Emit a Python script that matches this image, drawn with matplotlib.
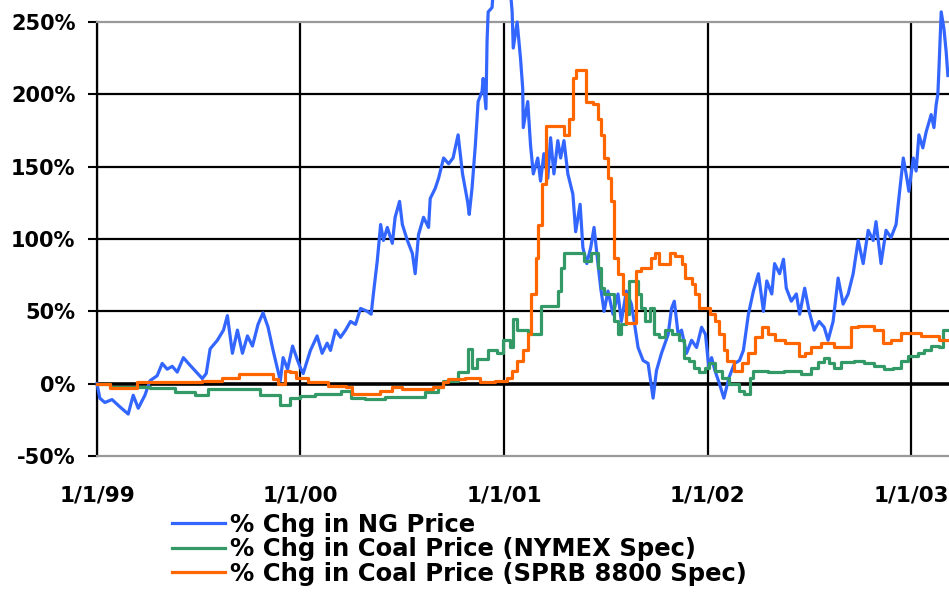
import matplotlib.pyplot as plt
import pandas as pd

# % Chg in NG Price
ng_dates = [
    "1999-01-01", "1999-01-06", "1999-01-15", "1999-01-28", "1999-02-11", "1999-02-26", "1999-03-07",
    "1999-03-16", "1999-03-28", "1999-04-06", "1999-04-19", "1999-04-28", "1999-05-07", "1999-05-16",
    "1999-05-25", "1999-06-05", "1999-06-14", "1999-06-26", "1999-07-09", "1999-07-16", "1999-07-23",
    "1999-08-05", "1999-08-16", "1999-08-23", "1999-09-01", "1999-09-10", "1999-09-19", "1999-09-28",
    "1999-10-07", "1999-10-17", "1999-10-26", "1999-11-04", "1999-11-13", "1999-11-21", "1999-11-26",
    "1999-12-01", "1999-12-09", "1999-12-18", "1999-12-27",
    "2000-01-01", "2000-01-06", "2000-01-19", "2000-01-31", "2000-02-09", "2000-02-18", "2000-02-24",
    "2000-03-04", "2000-03-13", "2000-03-22", "2000-03-31", "2000-04-09", "2000-04-18", "2000-04-30",
    "2000-05-07", "2000-05-11", "2000-05-18", "2000-05-24", "2000-05-29", "2000-06-05", "2000-06-14",
    "2000-06-19", "2000-06-27", "2000-07-02", "2000-07-11", "2000-07-20", "2000-07-25", "2000-07-31",
    "2000-08-09", "2000-08-18", "2000-08-21", "2000-08-30", "2000-09-05", "2000-09-14", "2000-09-23",
    "2000-10-01", "2000-10-10", "2000-10-18", "2000-10-27", "2000-10-30", "2000-11-04", "2000-11-10",
    "2000-11-15", "2000-11-22", "2000-11-24", "2000-11-29", "2000-12-01", "2000-12-03", "2000-12-10",
    "2000-12-17",
    "2001-01-06", "2001-01-15", "2001-01-17", "2001-01-24", "2001-01-30", "2001-02-03", "2001-02-04",
    "2001-02-12", "2001-02-17", "2001-02-22", "2001-03-02", "2001-03-07", "2001-03-13", "2001-03-20",
    "2001-03-25", "2001-03-31", "2001-04-07", "2001-04-12", "2001-04-18", "2001-04-25", "2001-05-04",
    "2001-05-09", "2001-05-17", "2001-05-22", "2001-05-29", "2001-06-05", "2001-06-11", "2001-06-18",
    "2001-06-23", "2001-06-29", "2001-07-06", "2001-07-15", "2001-07-24", "2001-07-30", "2001-08-08",
    "2001-08-17", "2001-08-22", "2001-08-29", "2001-09-07", "2001-09-16", "2001-09-25", "2001-10-01",
    "2001-10-10", "2001-10-22", "2001-10-28", "2001-11-02", "2001-11-09", "2001-11-15", "2001-11-24",
    "2001-12-03", "2001-12-12", "2001-12-21", "2001-12-28",
    "2002-01-03", "2002-01-08", "2002-01-14", "2002-01-22", "2002-01-30", "2002-02-08", "2002-02-18",
    "2002-02-27", "2002-03-06", "2002-03-15", "2002-03-24", "2002-04-02", "2002-04-11", "2002-04-17",
    "2002-04-26", "2002-05-01", "2002-05-10", "2002-05-17", "2002-05-22", "2002-05-31", "2002-06-09",
    "2002-06-15", "2002-06-24", "2002-07-02", "2002-07-11", "2002-07-20", "2002-07-29", "2002-08-05",
    "2002-08-14", "2002-08-23", "2002-09-01", "2002-09-10", "2002-09-19", "2002-09-28", "2002-10-07",
    "2002-10-16", "2002-10-25", "2002-10-30", "2002-11-08", "2002-11-17", "2002-11-26", "2002-12-05",
    "2002-12-10", "2002-12-18", "2002-12-23", "2002-12-28",
    "2003-01-05", "2003-01-10", "2003-01-15", "2003-01-22", "2003-01-28", "2003-02-06", "2003-02-11",
    "2003-02-15", "2003-02-18", "2003-02-20", "2003-02-24", "2003-03-01", "2003-03-05", "2003-03-08",
]
ng_pct = [
    0, -10, -13, -11, -16, -21, -8,
    -17, -8, 2, 5.5, 14, 10, 12,
    8, 18, 14, 9, 3.5, 7, 24,
    30, 37, 47, 21, 37, 21, 33,
    26, 41, 49, 39, 23, 10, 2,
    18, 10, 26, 16,
    11, 7, 23, 33, 21, 28, 23,
    37, 32, 37, 43, 41, 52, 50,
    48, 62, 85, 110, 99, 108, 97,
    115, 126, 110, 99, 90, 76, 103,
    115, 108, 128, 135, 142, 156, 152,
    156, 172, 145, 126, 117, 135, 165,
    195, 202, 211, 190, 237, 257, 260,
    300,
    300, 257, 232, 250, 225, 204, 177,
    195, 165, 145, 156, 140, 159, 142,
    170, 145, 168, 156, 168, 145, 131,
    105, 124, 94, 83, 94, 108, 83,
    66, 50, 64, 48, 62, 43, 64,
    55, 43, 25, 16, 14, -10, 9,
    21, 34, 52, 57, 34, 37, 21,
    30, 25, 39, 34,
    11, 18, 9, 0, -10, 4, 14,
    16, 23, 48, 64, 76, 50, 71,
    62, 83, 76, 86, 66, 57, 62,
    48, 66, 50, 37, 43, 39, 30,
    43, 73, 55, 62, 76, 99, 83,
    106, 99, 112, 83, 106, 101, 110,
    128, 156, 145, 133,
    156, 147, 172, 163, 174, 186, 177,
    193, 200, 218, 257, 245, 229, 213,
]

# % Chg in Coal Price (NYMEX Spec)
nymex_dates = [
    "1999-01-01", "1999-01-24", "1999-04-06", "1999-05-21", "1999-06-26", "1999-07-20", "1999-10-12",
    "1999-10-21", "1999-11-26", "1999-12-14", "2000-01-01", "2000-01-28", "2000-03-13", "2000-03-31",
    "2000-04-26", "2000-06-01", "2000-08-06", "2000-08-12", "2000-09-04", "2000-09-13", "2000-10-10",
    "2000-10-26", "2000-10-28", "2000-11-04", "2000-11-13", "2000-12-02", "2000-12-18", "2000-12-30",
    "2001-01-12", "2001-01-17", "2001-01-24", "2001-02-12", "2001-03-07", "2001-04-07", "2001-04-12",
    "2001-04-18", "2001-05-13", "2001-05-24", "2001-06-05", "2001-06-18", "2001-06-24", "2001-06-29",
    "2001-07-17", "2001-07-24", "2001-07-30", "2001-08-08", "2001-08-13", "2001-08-24", "2001-08-29",
    "2001-09-04", "2001-09-10", "2001-09-19", "2001-09-26", "2001-10-05", "2001-10-16", "2001-10-28",
    "2001-11-10", "2001-11-19", "2001-11-28", "2001-12-07", "2001-12-16", "2001-12-27", "2002-01-03",
    "2002-01-14", "2002-01-26", "2002-02-08", "2002-02-27", "2002-03-08", "2002-03-17", "2002-03-24",
    "2002-04-20", "2002-05-17", "2002-06-18", "2002-07-06", "2002-07-18", "2002-07-29", "2002-08-07",
    "2002-08-16", "2002-08-29", "2002-09-21", "2002-10-09", "2002-10-27", "2002-11-14", "2002-11-30",
    "2002-12-14", "2002-12-27", "2003-01-14", "2003-01-24", "2003-02-06", "2003-02-20", "2003-02-27",
    "2003-03-10",
]
nymex_pct = [
    0, -2, -3, -6, -8, -3.5, -3.5,
    -7.5, -15, -10, -8.5, -7, -5, -10,
    -10.5, -9.5, -9.5, -6, -2.5, 2, 8,
    8, 24, 11, 17, 23, 21, 30,
    25, 45, 37, 34, 54, 64, 80,
    90, 90, 85, 90, 80, 66, 62,
    43, 34, 41, 48, 71, 71, 62,
    52, 43, 52, 34, 32, 37, 34,
    30, 18, 16, 11, 8, 11, 14,
    9, 4, 0, -5, -7, 4, 9,
    8, 9, 7, 11, 15, 18, 14,
    11, 15, 16, 14, 12, 10, 11,
    16, 19, 21, 23, 26, 25, 37,
    37,
]

# % Chg in Coal Price (SPRB 8800 Spec)
sprb_dates = [
    "1999-01-01", "1999-01-24", "1999-03-14", "1999-07-09", "1999-08-14", "1999-09-12", "1999-11-12",
    "1999-11-21", "1999-12-04", "1999-12-14", "1999-12-25", "2000-01-15", "2000-02-20", "2000-03-22",
    "2000-04-03", "2000-05-23", "2000-06-14", "2000-07-02", "2000-08-26", "2000-09-13", "2000-09-22",
    "2000-10-22", "2000-11-18", "2000-12-15", "2001-01-06", "2001-01-15", "2001-01-24", "2001-02-03",
    "2001-02-12", "2001-02-17", "2001-02-26", "2001-03-03", "2001-03-09", "2001-03-16", "2001-04-12",
    "2001-04-18", "2001-04-27", "2001-05-04", "2001-05-09", "2001-05-24", "2001-05-28", "2001-06-09",
    "2001-06-18", "2001-06-24", "2001-06-29", "2001-07-06", "2001-07-12", "2001-07-17", "2001-07-24",
    "2001-08-02", "2001-08-08", "2001-08-22", "2001-08-26", "2001-09-04", "2001-09-16", "2001-09-22",
    "2001-09-28", "2001-10-05", "2001-10-16", "2001-10-25", "2001-11-03", "2001-11-15", "2001-11-21",
    "2001-12-03", "2001-12-09", "2001-12-16", "2002-01-05", "2002-01-14", "2002-01-22", "2002-01-30",
    "2002-02-04", "2002-02-17", "2002-03-03", "2002-03-15", "2002-03-26", "2002-04-08", "2002-04-20",
    "2002-05-01", "2002-05-19", "2002-06-13", "2002-06-24", "2002-07-06", "2002-07-24", "2002-08-16",
    "2002-09-12", "2002-09-16", "2002-09-28", "2002-10-27", "2002-11-12", "2002-11-26", "2002-12-14",
    "2003-01-19", "2003-02-20", "2003-03-10",
]
sprb_pct = [
    0, -3, 1, 2, 4, 7, 3.5,
    0, 9, 8, 4, 1, -1.5, -2.5,
    -7, -5, -2.5, -3.5, -2.5, 1, 3.5,
    4, 1, 2, 4, 9, 16, 23,
    34, 62, 87, 110, 138, 178, 178,
    172, 183, 211, 217, 217, 195, 193,
    183, 172, 156, 142, 126, 87, 76,
    62, 42, 42, 78, 80, 80, 87,
    90, 83, 83, 90, 88, 83, 73,
    69, 62, 52, 48, 43, 34, 23,
    16, 9, 14, 21, 32, 39, 34,
    30, 28, 19, 21, 25, 28, 25,
    25, 39, 40, 37, 28, 30, 35,
    33, 30, 30,
]

year_ticks = ["1999-01-01", "2000-01-01", "2001-01-01", "2002-01-01", "2003-01-01"]
year_labels = ["1/1/99", "1/1/00", "1/1/01", "1/1/02", "1/1/03"]
y_ticks = [-50, 0, 50, 100, 150, 200, 250]

plt.rcParams['font.family'] = ['DejaVu Sans']
plt.rcParams['font.weight'] = 'bold'

fig = plt.figure(figsize=(9.49, 5.96), dpi=100)
ax = fig.add_axes([97 / 949, 140 / 596, 852 / 949, 434 / 596])

# grid first, then the series on top
for t in year_ticks:
    ax.axvline(pd.Timestamp(t), color='black', lw=1.6, zorder=1)
for v in [50, 100, 150, 200]:
    ax.axhline(v, color='black', lw=1.6, zorder=1)
ax.axhline(0, color='black', lw=2.6, zorder=1)

ax.plot(pd.to_datetime(ng_dates), ng_pct, color='#3366FF', lw=2.3,
        label='% Chg in NG Price', clip_on=False, zorder=3)
ax.plot(pd.to_datetime(nymex_dates), nymex_pct, color='#339966', lw=2.3, drawstyle='steps-post',
        label='% Chg in Coal Price (NYMEX Spec)', clip_on=False, zorder=4)
ax.plot(pd.to_datetime(sprb_dates), sprb_pct, color='#FF6600', lw=2.3, drawstyle='steps-post',
        label='% Chg in Coal Price (SPRB 8800 Spec)', clip_on=False, zorder=5)

ax.set_xlim(pd.Timestamp("1999-01-01"), pd.Timestamp("2003-03-10"))
ax.set_ylim(-50, 250)

ax.set_xticks(pd.to_datetime(year_ticks))
ax.set_xticklabels(year_labels, fontsize=15.5, fontweight='bold')
ax.tick_params(axis='x', length=0, pad=21)
ax.set_yticks(y_ticks)
ax.set_yticklabels([f"{v}%" for v in y_ticks], fontsize=15, fontweight='bold')
ax.tick_params(axis='y', length=6.5, width=1.5, pad=9, color='black')

ax.spines['right'].set_visible(False)
ax.spines['left'].set_linewidth(1.6)
ax.spines['top'].set_color('#999999')
ax.spines['top'].set_linewidth(1.6)
ax.spines['bottom'].set_color('#999999')
ax.spines['bottom'].set_linewidth(1.6)

fig.legend(loc='upper left', bbox_to_anchor=(172 / 949, 1 - 513 / 596), frameon=False,
           prop={'size': 17.5, 'weight': 'bold'}, handlelength=2.2, handletextpad=0.2,
           labelspacing=0.02, borderpad=0, borderaxespad=0)

fig.savefig('out.png', dpi=100)
